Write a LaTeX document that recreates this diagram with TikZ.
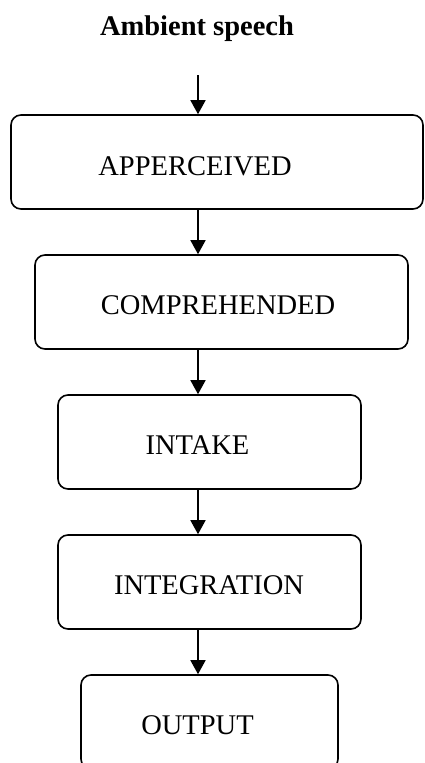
\documentclass[tikz,border=0pt]{standalone}
\usepackage{fontspec}
\setmainfont{Liberation Serif}
\usetikzlibrary{arrows.meta}
\begin{document}
\begin{tikzpicture}[x=1pt,y=-1pt,
  stage/.style={draw, line width=1.6pt, rounded corners=10pt, inner sep=0pt},
  lbl/.style={anchor=base, inner sep=0pt, font=\fontsize{28.5}{34}\selectfont},
  flow/.style={line width=1.6pt, -{Triangle[width=15pt,length=14pt]}}]
\useasboundingbox (0,0) rectangle (425,763);
\node[lbl, font=\fontsize{28.5}{34}\selectfont\bfseries] (ambient) at (197,35) {Ambient speech};
\coordinate (start) at (198,75);
\node[stage, minimum width=412pt, minimum height=94pt] (apperceived) at (217,162) {};
\node[lbl] (apperceivedtxt) at (195,175) {APPERCEIVED};
\node[stage, minimum width=373pt, minimum height=94pt] (comprehended) at (221.5,302) {};
\node[lbl] (comprehendedtxt) at (218,314) {COMPREHENDED};
\node[stage, minimum width=303pt, minimum height=94pt] (intake) at (209.5,442) {};
\node[lbl] (intaketxt) at (197.5,454) {INTAKE};
\node[stage, minimum width=303pt, minimum height=94pt] (integration) at (209.5,582) {};
\node[lbl] (integrationtxt) at (209,594) {INTEGRATION};
\node[stage, minimum width=257pt, minimum height=94pt] (output) at (209.5,722) {};
\node[lbl] (outputtxt) at (197.5,734) {OUTPUT};
\draw[flow] (start) -- (start |- apperceived.north);
\draw[flow] (start |- apperceived.south) -- (start |- comprehended.north);
\draw[flow] (start |- comprehended.south) -- (start |- intake.north);
\draw[flow] (start |- intake.south) -- (start |- integration.north);
\draw[flow] (start |- integration.south) -- (start |- output.north);
\end{tikzpicture}
\end{document}
